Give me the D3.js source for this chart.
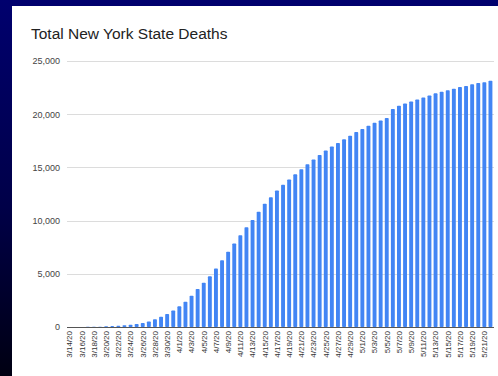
<!DOCTYPE html>
<html>
<head>
<meta charset="utf-8">
<script src="https://cdn.jsdelivr.net/npm/d3@7"></script>
<style>
  html, body { margin: 0; padding: 0; }
  body { width: 498px; height: 376px; overflow: hidden;
         background: linear-gradient(to bottom, #00006e 0%, #000048 55%, #000012 100%); }
  svg { display: block; }
</style>
</head>
<body>
<svg id="chart" width="498" height="376"></svg>
<script>
// Cumulative New York State COVID-19 deaths, one entry per day
const dates = [
  "3/14/20","3/15/20","3/16/20","3/17/20","3/18/20","3/19/20","3/20/20","3/21/20",
  "3/22/20","3/23/20","3/24/20","3/25/20","3/26/20","3/27/20","3/28/20","3/29/20",
  "3/30/20","3/31/20","4/1/20","4/2/20","4/3/20","4/4/20","4/5/20","4/6/20",
  "4/7/20","4/8/20","4/9/20","4/10/20","4/11/20","4/12/20","4/13/20","4/14/20",
  "4/15/20","4/16/20","4/17/20","4/18/20","4/19/20","4/20/20","4/21/20","4/22/20",
  "4/23/20","4/24/20","4/25/20","4/26/20","4/27/20","4/28/20","4/29/20","4/30/20",
  "5/1/20","5/2/20","5/3/20","5/4/20","5/5/20","5/6/20","5/7/20","5/8/20",
  "5/9/20","5/10/20","5/11/20","5/12/20","5/13/20","5/14/20","5/15/20","5/16/20",
  "5/17/20","5/18/20","5/19/20","5/20/20","5/21/20","5/22/20"
];
const deaths = [
  2, 3, 7, 12, 12, 29, 60, 90,
  120, 160, 210, 285, 385, 519, 728, 965,
  1218, 1550, 1941, 2373, 2935, 3565, 4159, 4758,
  5489, 6268, 7067, 7844, 8627, 9385, 10056, 10834,
  11586, 12192, 12822, 13362, 13869, 14347, 14828, 15302,
  15740, 16162, 16599, 16966, 17303, 17638, 17971, 18321,
  18610, 18909, 19189, 19415, 19645, 20500, 20800, 21000,
  21200, 21380, 21560, 21760, 21960, 22120, 22250, 22400,
  22560, 22660, 22810, 22930, 23010, 23150
];
const yTicks = [0, 5000, 10000, 15000, 20000, 25000];
const chartTitle = "Total New York State Deaths";

const svg = d3.select("#chart");

// white chart panel
svg.append("rect")
  .attr("x", 12).attr("y", 6)
  .attr("width", 486).attr("height", 370)
  .attr("fill", "#ffffff");

svg.append("text")
  .attr("x", 31).attr("y", 39)
  .attr("font-family", "'Liberation Sans', Arial, sans-serif")
  .attr("font-size", 15.5)
  .attr("fill", "#222")
  .text(chartTitle);

const x = d3.scaleBand()
  .domain(dates)
  .range([66.5, 493.5])
  .paddingInner(0.36)
  .paddingOuter(0.18);

const y = d3.scaleLinear()
  .domain([0, 25000])
  .range([327, 61]);

// gridlines
svg.append("g")
  .selectAll("line")
  .data(yTicks.filter(d => d > 0))
  .join("line")
  .attr("x1", 67).attr("x2", 494)
  .attr("y1", d => Math.round(y(d)) + 0.5)
  .attr("y2", d => Math.round(y(d)) + 0.5)
  .attr("stroke", "#dcdcdc")
  .attr("stroke-width", 1);

// y axis labels
const yAxis = d3.axisLeft(y)
  .tickValues(yTicks)
  .tickFormat(d3.format(","))
  .tickSize(0)
  .tickPadding(0);
svg.append("g")
  .attr("transform", "translate(60,0)")
  .call(yAxis)
  .call(g => g.select(".domain").remove())
  .call(g => g.selectAll("text")
    .attr("font-family", "'Liberation Sans', Arial, sans-serif")
    .attr("font-size", 9)
    .attr("fill", "#444"));

// bars
svg.append("g")
  .selectAll("rect")
  .data(deaths)
  .join("rect")
  .attr("x", (d, i) => x(dates[i]))
  .attr("width", x.bandwidth())
  .attr("y", d => y(d))
  .attr("height", d => y(0) - y(d))
  .attr("rx", 0.8)
  .attr("fill", "#4285f4");

// baseline
svg.append("line")
  .attr("x1", 67).attr("x2", 494)
  .attr("y1", 327.5).attr("y2", 327.5)
  .attr("stroke", "#555")
  .attr("stroke-width", 1);

// x axis labels, every other day
const xAxis = d3.axisBottom(x)
  .tickValues(dates.filter((d, i) => i % 2 === 0))
  .tickSize(0)
  .tickPadding(0);
svg.append("g")
  .attr("transform", "translate(0,331)")
  .call(xAxis)
  .call(g => g.select(".domain").remove())
  .call(g => g.selectAll("text")
    .attr("font-family", "'Liberation Sans', Arial, sans-serif")
    .attr("font-size", 8)
    .attr("fill", "#333")
    .attr("text-anchor", "end")
    .attr("transform", "rotate(-90)")
    .attr("x", 0)
    .attr("y", 0)
    .attr("dx", 0)
    .attr("dy", "0.35em"));
</script>
</body>
</html>
